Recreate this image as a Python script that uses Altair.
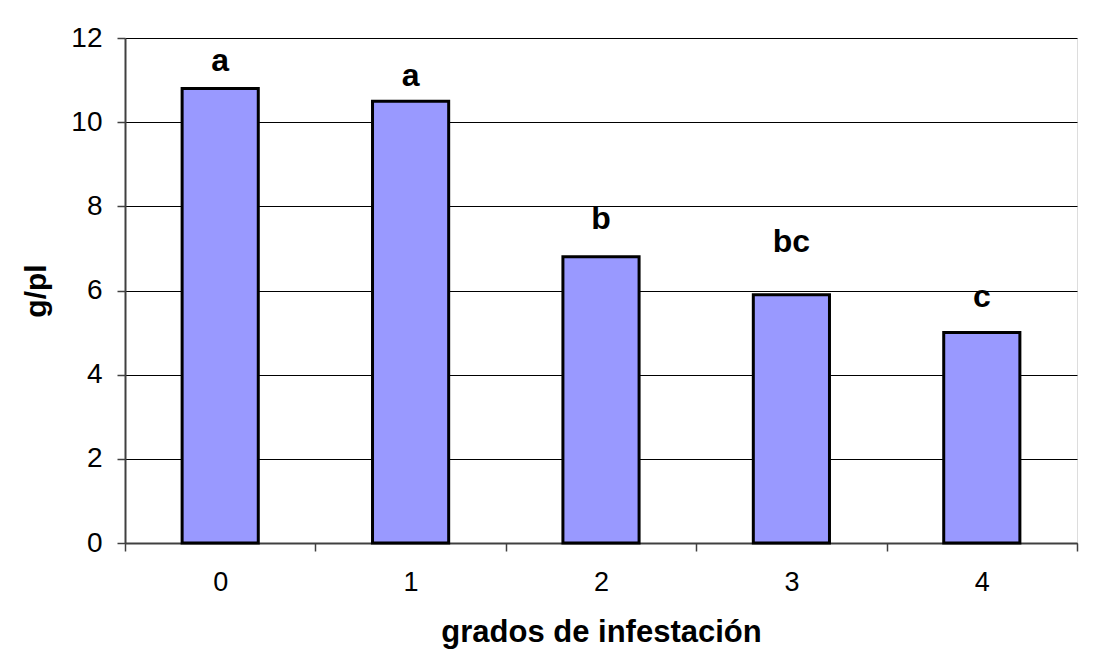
import altair as alt
import pandas as pd

grados = ["0", "1", "2", "3", "4"]
gpl = [10.8, 10.5, 6.8, 5.9, 5.0]
letras = ["a", "a", "b", "bc", "c"]
letra_y = [11.45, 11.1, 7.7, 7.15, 5.85]

df = pd.DataFrame({"grado": grados, "gpl": gpl, "letra": letras, "ly": letra_y})

FONT = "Liberation Sans"

x = alt.X("grado:N", sort=grados,
          scale=alt.Scale(paddingInner=0, paddingOuter=0),
          axis=alt.Axis(title="grados de infestación", labelAngle=0,
                        tickBand="extent", tickSize=8, tickColor="#404040", tickWidth=1.5,
                        domainColor="#404040", domainWidth=2,
                        labelFont=FONT, labelFontSize=27, labelColor="black", labelPadding=18,
                        titleFont=FONT, titleFontSize=31, titleFontWeight="bold", titleColor="black",
                        titleY=98, titleBaseline="alphabetic"))

y = alt.Y("gpl:Q", scale=alt.Scale(domain=[0, 12], nice=False),
          axis=alt.Axis(title="g/pl", values=[0, 2, 4, 6, 8, 10, 12],
                        grid=True, gridColor="black", gridWidth=1, gridOpacity=1,
                        tickSize=8, tickColor="#404040", tickWidth=1.5,
                        domainColor="#404040", domainWidth=2,
                        labelFont=FONT, labelFontSize=28, labelColor="black", labelPadding=15,
                        titleFont=FONT, titleFontSize=30, titleFontWeight="bold", titleColor="black",
                        titleX=-80, titleBaseline="alphabetic"))

bars = alt.Chart(df).mark_bar(color="#9999FF", stroke="black", strokeWidth=3,
                              width=alt.RelativeBandSize(0.4)).encode(x=x, y=y)

labels = alt.Chart(df).mark_text(font=FONT, fontSize=32, fontWeight="bold", color="black",
                                 baseline="middle", align="center").encode(
    x=alt.X("grado:N", sort=grados),
    y=alt.Y("ly:Q"),
    text="letra:N")

chart = alt.layer(bars, labels).properties(
    width=952, height=505,
    autosize=alt.AutoSizeParams(type="none"),
    padding={"left": 117, "top": 30, "right": 20, "bottom": 110},
).configure_view(stroke="#808080", strokeWidth=2).configure(background="white")

chart.save("out.html", embed_options={"renderer": "svg", "actions": False})
